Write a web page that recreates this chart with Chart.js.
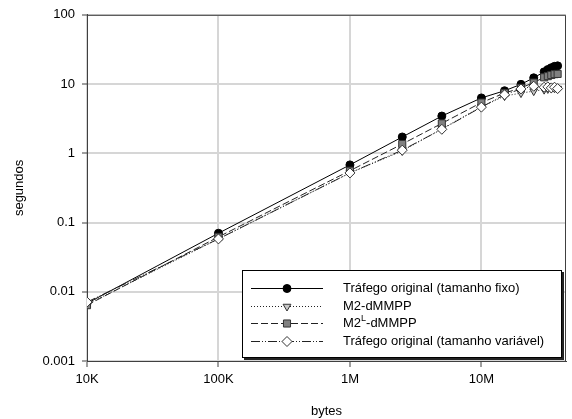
<!DOCTYPE html>
<html>
<head>
<meta charset="utf-8">
<style>
  html, body { margin: 0; padding: 0; background: #fff; }
</style>
</head>
<body>
<canvas id="myChart" width="572" height="419"></canvas>
<script src="https://cdnjs.cloudflare.com/ajax/libs/Chart.js/4.4.1/chart.umd.min.js"></script>
<script>
// tamanhos (bytes) e tempos (segundos)
const bytes     = [1e4, 1e5, 1e6, 2.5e6, 5e6, 1e7, 1.5e7, 2e7, 2.5e7, 3e7, 3.2e7, 3.4e7, 3.6e7, 3.8e7];
const fixo      = [0.0068, 0.070, 0.68, 1.72, 3.45, 6.3, 8.0, 9.9, 12.3, 15.0, 16.2, 17.2, 18.0, 18.3];
const m2        = [0.0066, 0.058, 0.52, 1.08, 2.25, 4.7, 6.7, 7.4, 7.9, 8.3, 8.5, 8.6, 8.7, 8.6];
const m2L       = [0.0064, 0.062, 0.56, 1.36, 2.7, 5.4, 7.4, 8.8, 10.5, 12.5, 13.0, 13.5, 13.9, 14.0];
const variavel  = [0.0071, 0.058, 0.52, 1.11, 2.22, 4.64, 7.0, 8.5, 9.3, 9.0, 9.1, 8.8, 9.0, 8.6];

const seriesNames = ['Tráfego original (tamanho fixo)', 'M2-dMMPP', 'M2ᴸ-dMMPP', 'Tráfego original (tamanho variável)'];

const xTickValues = [1e4, 1e5, 1e6, 1e7];
const xTickLabels = ['10K', '100K', '1M', '10M'];
const yTickValues = [0.001, 0.01, 0.1, 1, 10, 100];
const yTickLabels = ['0.001', '0.01', '0.1', '1', '10', '100'];

const FONT = "'Liberation Sans', Arial, sans-serif";
const GRID = '#d6d6d6';
const AXIS = '#404040';

function pts(ys) {
    return bytes.map((b, i) => ({ x: b, y: ys[i] }));
}

// moldura da área do gráfico (topo e direita)
const frame = {
    id: 'frame',
    afterDraw(chart) {
        const { ctx, chartArea: a } = chart;
        ctx.save();
        ctx.strokeStyle = AXIS;
        ctx.lineWidth = 1;
        ctx.beginPath();
        ctx.moveTo(a.left, a.top + 0.5);
        ctx.lineTo(a.right - 0.5, a.top + 0.5);
        ctx.lineTo(a.right - 0.5, a.bottom);
        ctx.stroke();
        ctx.restore();
    }
};

// legenda dentro da área, estilo Excel
const boxLegend = {
    id: 'boxLegend',
    afterDraw(chart) {
        const { ctx, chartArea: a } = chart;
        const w = 320, h = 88;
        const x0 = a.right - 4 - w, y0 = a.bottom - 3 - h;
        ctx.save();
        ctx.fillStyle = '#222';
        ctx.fillRect(x0 + 2, y0 + 2, w, h);
        ctx.fillStyle = '#fff';
        ctx.fillRect(x0, y0, w, h);
        ctx.strokeStyle = '#000';
        ctx.lineWidth = 1;
        ctx.strokeRect(x0 + 0.5, y0 + 0.5, w - 1, h - 1);

        chart.data.datasets.forEach((ds, i) => {
            const y = Math.round(y0 + 18 + i * 17.7) + 0.5;
            ctx.save();
            ctx.strokeStyle = ds.borderColor;
            ctx.lineWidth = ds.borderWidth;
            ctx.setLineDash(ds.borderDash || []);
            ctx.beginPath();
            ctx.moveTo(x0 + 9, y);
            ctx.lineTo(x0 + 81, y);
            ctx.stroke();
            ctx.setLineDash([]);
            ctx.fillStyle = ds.pointBackgroundColor;
            ctx.strokeStyle = ds.pointBorderColor;
            ctx.lineWidth = ds.pointBorderWidth;
            Chart.helpers.drawPoint(ctx, {
                pointStyle: ds.pointStyle,
                radius: ds.pointRadius,
                rotation: ds.pointRotation || 0,
                borderWidth: ds.pointBorderWidth
            }, x0 + 45, y);
            ctx.restore();

            // texto (com sobrescrito em M2^L)
            ctx.fillStyle = '#000';
            ctx.textBaseline = 'middle';
            ctx.textAlign = 'left';
            let tx = x0 + 101;
            const parts = ds.label.split('ᴸ');
            ctx.font = '13px ' + FONT;
            ctx.fillText(parts[0], tx, y);
            if (parts.length > 1) {
                tx += ctx.measureText(parts[0]).width;
                ctx.font = '9px ' + FONT;
                ctx.fillText('L', tx, y - 5);
                tx += ctx.measureText('L').width;
                ctx.font = '13px ' + FONT;
                ctx.fillText(parts[1], tx, y);
            }
        });
        ctx.restore();
    }
};

const ctx = document.getElementById('myChart').getContext('2d');
const myChart = new Chart(ctx, {
    type: 'line',
    data: {
        datasets: [{
            label: seriesNames[0],
            data: pts(fixo),
            borderColor: '#000',
            borderWidth: 1,
            pointStyle: 'circle',
            pointRadius: 4,
            pointBackgroundColor: '#000',
            pointBorderColor: '#000',
            pointBorderWidth: 1,
            order: 3
        }, {
            label: seriesNames[1],
            data: pts(m2),
            borderColor: '#222',
            borderWidth: 1,
            borderDash: [1, 2],
            pointStyle: 'triangle',
            pointRotation: 180,
            pointRadius: 4.5,
            pointBackgroundColor: '#c8c8c8',
            pointBorderColor: '#333',
            pointBorderWidth: 1,
            order: 2
        }, {
            label: seriesNames[2],
            data: pts(m2L),
            borderColor: '#222',
            borderWidth: 1,
            borderDash: [7, 3],
            pointStyle: 'rect',
            pointRadius: 5,
            pointBackgroundColor: '#808080',
            pointBorderColor: '#333',
            pointBorderWidth: 1,
            order: 1
        }, {
            label: seriesNames[3],
            data: pts(variavel),
            borderColor: '#222',
            borderWidth: 1,
            borderDash: [9, 2, 1, 2, 1, 2],
            pointStyle: 'rectRot',
            pointRadius: 5,
            pointBackgroundColor: '#fff',
            pointBorderColor: '#333',
            pointBorderWidth: 1,
            order: 0
        }]
    },
    options: {
        responsive: false,
        animation: false,
        devicePixelRatio: 1,
        layout: { padding: { top: 11, right: 1, left: 0, bottom: 0 } },
        plugins: {
            legend: { display: false },
            tooltip: { enabled: false }
        },
        scales: {
            x: {
                type: 'logarithmic',
                position: 'bottom',
                min: 1e4,
                max: 4.4e7,
                afterBuildTicks: s => { s.ticks = xTickValues.map(v => ({ value: v })); },
                afterFit: s => { s.height = 58; },
                ticks: {
                    autoSkip: false,
                    maxRotation: 0,
                    padding: 5,
                    color: '#000',
                    font: { family: FONT, size: 13 },
                    callback: (v, i) => xTickLabels[i]
                },
                grid: { color: GRID, lineWidth: 2, tickLength: 6, tickColor: AXIS, tickWidth: 1 },
                border: { color: AXIS, width: 1 },
                title: {
                    display: true,
                    text: 'bytes',
                    color: '#000',
                    font: { family: FONT, size: 13 },
                    padding: { top: 0, bottom: 0 }
                }
            },
            y: {
                type: 'logarithmic',
                position: 'left',
                min: 0.001,
                max: 100,
                afterBuildTicks: s => { s.ticks = yTickValues.map(v => ({ value: v })); },
                afterFit: s => { s.width = 87; },
                ticks: {
                    autoSkip: false,
                    padding: 7,
                    color: '#000',
                    font: { family: FONT, size: 13 },
                    callback: (v, i) => yTickLabels[i]
                },
                grid: { color: GRID, lineWidth: 2, tickLength: 5, tickColor: AXIS, tickWidth: 1 },
                border: { color: AXIS, width: 1 },
                title: {
                    display: true,
                    text: 'segundos',
                    color: '#000',
                    font: { family: FONT, size: 13 },
                    padding: { top: 12, bottom: 0 }
                }
            }
        }
    },
    plugins: [frame, boxLegend]
});
</script>
</body>
</html>
